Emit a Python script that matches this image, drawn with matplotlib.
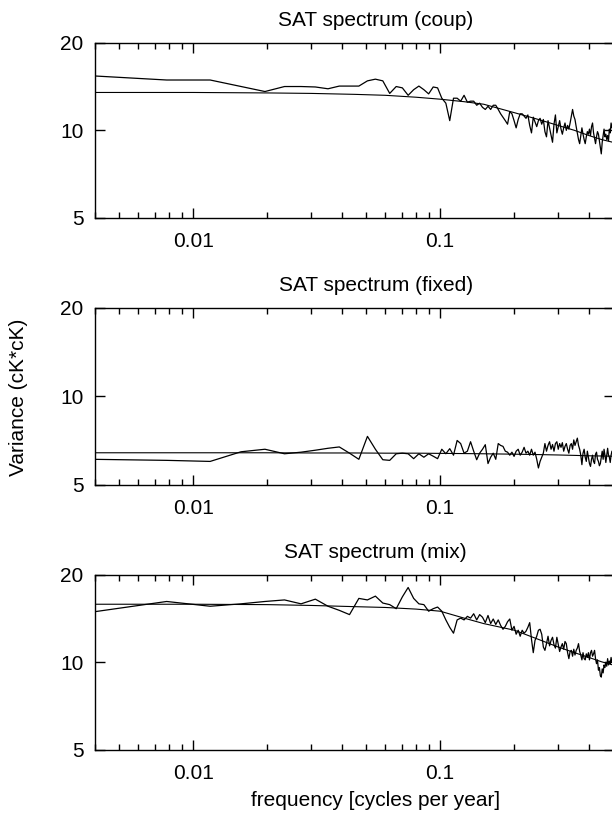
# SAT variance spectra for the three runs (coup / fixed / mix), log-log panels

import numpy as np
import matplotlib.pyplot as plt
from matplotlib.ticker import NullLocator, LogLocator, NullFormatter

plt.rcParams['font.family'] = ['Liberation Sans', 'DejaVu Sans']

# spectral estimates at the Fourier frequencies k/256 (cycles per year)
harmonic = np.arange(1, 129)
freq = harmonic / 256.0

coup_spec = [15.4, 14.9, 14.9, 14.15, 13.6, 14.15, 14.15, 14.1, 13.9, 14.2,
             14.2, 14.2, 14.8, 15.0, 14.8, 13.4, 14.15, 14.0, 13.2, 13.8,
             14.2, 13.8, 13.35, 14.1, 14.0, 12.9, 12.4, 10.8, 12.9, 12.9,
             12.6, 13.2, 12.5, 12.6, 12.6, 12.2, 12.4, 12.0, 11.8, 12.1,
             11.8, 12.2, 12.2, 11.8, 11.4, 11.1, 10.8, 10.5, 11.6, 11.4,
             10.8, 10.2, 10.9, 11.4, 11.4, 11.2, 11.0, 11.3, 10.4, 9.8,
             11.1, 10.7, 10.3, 10.8, 11.0, 10.5, 10.9, 9.9, 9.5, 10.8,
             10.2, 9.6, 9.1, 10.5, 11.3, 9.8, 10.3, 10.8, 10.1, 9.7,
             10.2, 10.6, 10.0, 10.4, 10.1, 10.6, 11.2, 11.8, 11.2, 10.9,
             10.3, 9.8, 9.3, 9.0, 9.6, 10.2, 9.7, 9.3, 9.0, 9.5,
             9.9, 9.7, 10.1, 9.6, 10.3, 10.6, 9.8, 9.4, 9.0, 9.5,
             9.9, 9.7, 9.2, 8.7, 8.3, 9.1, 9.6, 10.1, 9.5, 9.7,
             9.3, 9.6, 9.2, 10.1, 9.8, 10.6, 10.2, 10.5]

fixed_spec = [6.1, 6.05, 6.0, 6.47, 6.6, 6.37, 6.45, 6.55, 6.65, 6.72,
              6.4, 6.1, 7.3, 6.6, 6.08, 6.05, 6.37, 6.4, 6.37, 6.13,
              6.37, 6.2, 6.37, 6.25, 6.13, 6.6, 6.37, 6.63, 6.3, 7.07,
              6.9, 6.4, 6.5, 7.0, 6.5, 6.08, 6.4, 6.6, 6.84, 5.9,
              6.2, 6.4, 6.1, 6.9, 6.8, 6.75, 6.5, 6.45, 6.3, 6.45,
              6.24, 6.5, 6.6, 6.3, 6.45, 6.7, 6.4, 6.5, 6.3, 6.6,
              6.3, 6.45, 6.1, 5.7, 6.0, 6.2, 6.4, 6.9, 6.5, 6.8,
              7.0, 6.6, 6.85, 6.5, 6.9, 7.0, 6.6, 6.9, 6.7, 6.95,
              6.5, 6.75, 6.9, 6.6, 6.4, 6.8, 6.9, 6.6, 7.1, 6.8,
              7.0, 7.2, 6.8, 6.6, 6.3, 5.85, 6.4, 6.6, 6.2, 6.0,
              6.5, 6.2, 5.9, 5.77, 6.1, 6.3, 6.0, 5.9, 6.35, 6.45,
              6.1, 6.0, 5.8, 5.9, 6.2, 6.5, 6.1, 6.6, 6.3, 5.95,
              6.3, 6.65, 6.3, 6.2, 5.95, 6.3, 6.5, 6.4]

mix_spec = [14.9, 16.2, 15.6, 15.9, 16.2, 16.4, 15.9, 16.5, 15.6, 15.1,
            14.6, 16.6, 16.4, 16.9, 16.0, 15.8, 15.3, 16.8, 18.1, 16.6,
            15.9, 15.8, 15.0, 15.3, 15.5, 15.0, 14.0, 13.2, 12.6, 14.0,
            14.2, 14.0, 14.4, 14.2, 14.7, 14.0, 14.6, 14.3, 13.7, 14.5,
            13.6, 14.1, 13.5, 14.0, 13.4, 13.0, 13.3, 13.8, 14.1, 12.9,
            13.3, 12.5, 12.9, 12.3, 12.9, 12.6, 12.8, 13.2, 13.7, 12.0,
            10.8, 11.9, 12.3, 12.9, 13.0, 12.5, 11.3, 11.0, 11.6, 12.3,
            11.4, 11.9, 12.2, 11.5, 11.2, 12.2, 11.5, 10.9, 11.3, 11.6,
            11.1, 11.8, 11.6, 10.8, 10.3, 10.9, 11.0, 10.5, 11.1, 10.6,
            11.0, 11.2, 11.6, 10.9, 10.6, 10.2, 10.8, 10.3, 10.2, 10.7,
            10.4, 10.8, 10.2, 10.8, 11.0, 10.5, 10.7, 11.0, 10.3, 9.9,
            10.2, 9.4, 9.6, 9.0, 8.9, 9.5, 9.2, 9.8, 9.6, 10.0,
            9.7, 10.3, 9.8, 10.1, 9.9, 10.4, 10.0, 10.3]

# fitted (smooth) background spectra, read at a few frequencies
fit_freq = [0.0039, 0.01, 0.02, 0.03, 0.045, 0.06, 0.08, 0.1, 0.125,
            0.15, 0.2, 0.25, 0.3, 0.35, 0.4, 0.45, 0.5]
coup_fit = [13.5, 13.5, 13.45, 13.4, 13.3, 13.2, 13.0, 12.8, 12.55,
            12.3, 11.5, 10.9, 10.4, 10.0, 9.6, 9.3, 9.1]
fixed_fit = [6.42, 6.42, 6.42, 6.41, 6.41, 6.40, 6.40, 6.39, 6.38,
             6.37, 6.35, 6.33, 6.31, 6.29, 6.27, 6.26, 6.25]
mix_fit = [15.85, 15.85, 15.8, 15.7, 15.55, 15.45, 15.25, 15.0, 14.2,
           13.6, 12.9, 12.0, 11.3, 10.8, 10.4, 10.05, 9.8]

titles = ['SAT spectrum (coup)', 'SAT spectrum (fixed)', 'SAT spectrum (mix)']
y_ticks = [5, 10, 20]
x_ticks = [0.01, 0.1]
x_tick_labels = ['0.01', '0.1']

FS = 15


def style_panel(ax, title):
    """gnuplot-like log-log panel with inward ticks on all sides."""
    ax.set_xscale('log')
    ax.set_yscale('log')
    ax.set_xlim(0.004, 0.505)
    ax.set_ylim(5, 20)
    ax.set_yticks(y_ticks)
    ax.set_yticklabels([str(t) for t in y_ticks])
    ax.yaxis.set_minor_locator(NullLocator())
    ax.set_xticks(x_ticks)
    ax.set_xticklabels(x_tick_labels)
    ax.xaxis.set_minor_locator(LogLocator(base=10, subs=np.arange(2, 10)))
    ax.xaxis.set_minor_formatter(NullFormatter())
    ax.tick_params(which='both', direction='in', top=True, right=True,
                   labelsize=FS, width=1.0)
    ax.tick_params(which='major', length=7)
    ax.tick_params(which='minor', length=4)
    ax.tick_params(axis='x', pad=10)
    ax.tick_params(axis='y', pad=8)
    for sp in ax.spines.values():
        sp.set_linewidth(1.0)
    ax.set_title(title, x=0.541, fontsize=FS, pad=12)


fig = plt.figure(figsize=(6.12, 8.16), dpi=100)

# axes rectangles [left, bottom, width, height] in figure fraction
left, width = 0.155, 0.848
bottoms = [0.733, 0.406, 0.081]
heights = [0.2145, 0.217, 0.2145]

spectra = [coup_spec, fixed_spec, mix_spec]
fits = [coup_fit, fixed_fit, mix_fit]

for i in range(3):
    ax = fig.add_axes([left, bottoms[i], width, heights[i]])
    ax.plot(freq, spectra[i], color='black', linewidth=0.9)
    ax.plot(fit_freq, fits[i], color='black', linewidth=0.8)
    style_panel(ax, titles[i])
    if i == 2:
        ax.set_xlabel('frequency [cycles per year]', fontsize=FS, labelpad=6)
        ax.xaxis.label.set_x(0.541)

fig.text(0.03, 0.513, 'Variance (cK*cK)', rotation=90, fontsize=FS,
         ha='center', va='center')

fig.savefig('out.png', dpi=100)
